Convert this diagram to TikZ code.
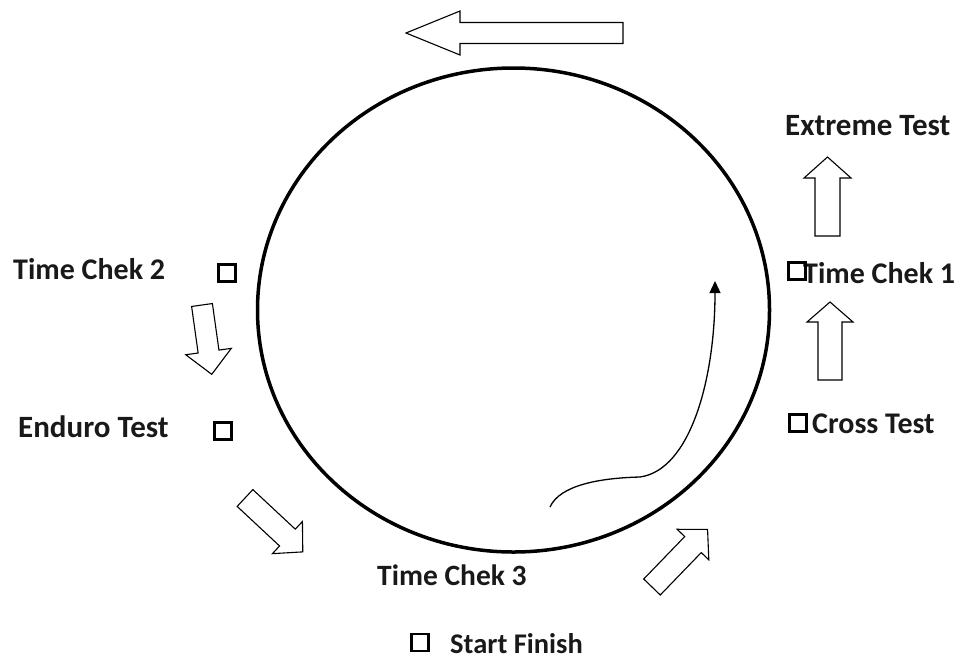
\documentclass[tikz,border=0pt]{standalone}
\usepackage{fontspec}
\setmainfont{Carlito}
\usetikzlibrary{arrows.meta}
\tikzset{
  barrow/.style={draw, line width=1.1pt, line join=miter, fill=white},
  lbl/.style={inner sep=0pt, font=\bfseries\fontsize{#1}{34}\selectfont, text=black!90, anchor=base west},
  lbl/.default=30,
  chk/.style={draw, line width=2.8pt, inner sep=0pt, minimum size=#1},
  chk/.default=17pt,
  track/.style={line width=3.5pt},
  route/.style={line width=1.3pt, -{Triangle[length=12pt,width=11pt]}}
}
% tail x, tail y, canvas angle, length, shaft width, head width, head length
\newcommand\blockarrow[7]{%
  \begin{scope}[shift={(#1,#2)}, rotate=#3]
    \draw[barrow] (0pt,-#5pt/2) -- (#4pt-#7pt,-#5pt/2) -- (#4pt-#7pt,-#6pt/2) -- (#4pt,0pt)
      -- (#4pt-#7pt,#6pt/2) -- (#4pt-#7pt,#5pt/2) -- (0pt,#5pt/2) -- cycle;
  \end{scope}}
\begin{document}
\begin{tikzpicture}[x=1pt, y=-1pt]
  \useasboundingbox (0,0) rectangle (963,662);
  % track
  \draw[track] (513.5,310) ellipse [x radius=256pt, y radius=242pt];
  % block arrows
  \blockarrow{623}{33}{180}{217}{21}{44}{54}
  \blockarrow{827.5}{236}{90}{79}{25}{47}{21}
  \blockarrow{830}{380}{90}{78}{24}{46}{20}
  \blockarrow{202}{305}{-82}{70}{21}{46}{23}
  \blockarrow{245}{498}{-43}{79}{23}{44}{21}
  \blockarrow{652}{587}{46}{80}{23}{44}{21}
  % labels
  \node[lbl=31] (extreme) at (785,135) {Extreme Test};
  \node[lbl] (tc1) at (803,283) {Time Chek 1};
  \node[lbl] (cross) at (812,433) {Cross Test};
  \node[lbl=30] (tc2) at (13,279) {Time Chek 2};
  \node[lbl=31] (enduro) at (18,437) {Enduro Test};
  \node[lbl=29.5] (tc3) at (377,585) {Time Chek 3};
  \node[lbl=28.5] (start) at (450,653) {Start Finish};
  % check squares
  \node[chk] (b1) at (797,271) {};
  \node[chk] (bc) at (798,423) {};
  \node[chk] (b2) at (227,273) {};
  \node[chk] (be) at (223,431) {};
  \node[chk] (bs) at (420,642.5) {};
  % route curve
  \coordinate (c0) at (550,507);
  \coordinate (c1) at (640,477);
  \coordinate (c2) at (715,281);
  \draw[route] (c0) .. controls (560,485) and (600,478) .. (c1)
     .. controls (690,470) and (715,380) .. (c2);
\end{tikzpicture}
\end{document}
